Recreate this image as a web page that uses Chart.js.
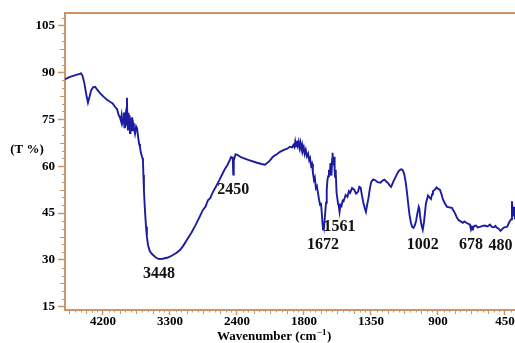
<!DOCTYPE html>
<html>
<head>
<meta charset="utf-8">
<script src="https://cdn.jsdelivr.net/npm/chart.js@4.4.1/dist/chart.umd.min.js"></script>
<style>
  html, body { margin: 0; padding: 0; background: #fff; }
</style>
</head>
<body>
<canvas id="irChart" width="515" height="343"></canvas>
<script>
// FTIR spectrum: transmittance against wavenumber
const tickWavenumbers = [4200, 3300, 2400, 1800, 1350, 900, 450];
const tickLabels = tickWavenumbers.map(String);
const yTicks = [15, 30, 45, 60, 75, 90, 105];
const peakLabels = [3448, 2450, 1672, 1561, 1002, 678, 480];

const wavenumbers = [
  4710, 4680, 4643, 4600, 4560, 4509, 4496, 4475, 4450, 4425, 4402, 4385, 4360, 4334, 4307, 4275, 4240, 4200,
  4150, 4106, 4070, 4039, 4010, 3990, 3971, 3960, 3950, 3940, 3931, 3920, 3912, 3905, 3895, 3885, 3878, 3872,
  3865, 3858, 3850, 3843, 3837, 3830, 3822, 3815, 3805, 3795, 3785, 3770, 3755, 3743, 3725, 3715, 3703, 3690,
  3680, 3670, 3663, 3657, 3650, 3640, 3630, 3622, 3610, 3595, 3575, 3560, 3528, 3490, 3448, 3400, 3340, 3300,
  3260, 3210, 3166, 3120, 3072, 3010, 2960, 2910, 2857, 2820, 2790, 2760, 2722, 2680, 2640, 2588, 2560, 2530,
  2494, 2480, 2465, 2457, 2450, 2443, 2420, 2400, 2360, 2300, 2221, 2180, 2149, 2110, 2078, 2040, 2015, 1980,
  1950, 1925, 1905, 1895, 1885, 1878, 1870, 1863, 1856, 1848, 1840, 1832, 1824, 1816, 1809, 1802, 1795, 1788,
  1780, 1772, 1765, 1759, 1752, 1746, 1740, 1733, 1727, 1720, 1713, 1706, 1699, 1692, 1686, 1680, 1676, 1672,
  1668, 1665, 1658, 1652, 1647, 1642, 1637, 1632, 1627, 1622, 1618, 1615, 1611, 1608, 1604, 1601, 1598, 1594,
  1591, 1588, 1585, 1581, 1576, 1571, 1566, 1561, 1555, 1548, 1540, 1534, 1520, 1508, 1498, 1490, 1477, 1463,
  1450, 1437, 1428, 1419, 1410, 1401, 1392, 1384, 1375, 1366, 1357, 1348, 1335, 1321, 1305, 1286, 1272, 1259,
  1246, 1233, 1224, 1215, 1198, 1180, 1166, 1153, 1144, 1135, 1126, 1117, 1108, 1100, 1091, 1082, 1073, 1064,
  1056, 1047, 1038, 1029, 1024, 1020, 1012, 1002, 994, 981, 967, 957, 947, 940, 934, 920, 910, 900,
  887, 876, 866, 852, 839, 829, 819, 806, 796, 786, 772, 762, 752, 742, 732, 722, 712, 698,
  685, 678, 671, 665, 655, 645, 632, 618, 600, 584, 568, 551, 538, 524, 514, 504, 492, 480,
  470, 460, 450, 436, 423, 409, 403, 396, 389, 383
];

const transmittance = [
  87.7, 88.2, 88.6, 88.9, 89.2, 89.5, 89.7, 88.9, 86.5, 83.0, 80.3, 81.8, 84.2, 85.2, 85.4, 84.4, 83.4, 82.4,
  81.3, 80.6, 80.1, 79.0, 78.2, 76.4, 75.5, 74.6, 76.2, 73.8, 74.6, 77.2, 72.4, 75.6, 76.9, 73.2, 81.9, 74.1,
  71.4, 77.1, 73.4, 76.3, 70.6, 74.9, 72.1, 75.6, 71.2, 73.7, 72.3, 70.4, 72.7, 72.1, 68.8, 67.2, 66.2, 64.1,
  63.4, 62.6, 61.8, 57.2, 52.4, 47.5, 43.6, 40.6, 37.4, 34.8, 33.1, 32.4, 31.6, 30.8, 30.3, 30.4, 30.7, 31.1,
  31.6, 32.3, 33.2, 34.6, 36.5, 38.8, 41.0, 43.4, 46.0, 47.2, 49.1, 49.8, 51.8, 53.6, 55.4, 57.9, 59.2, 60.3,
  62.1, 62.9, 62.6, 63.0, 57.3, 61.8, 63.8, 63.7, 62.8, 62.0, 61.1, 60.7, 60.5, 61.6, 63.0, 63.9, 64.6, 65.2,
  65.6, 66.2, 66.0, 66.8, 66.1, 67.9, 66.4, 68.1, 66.6, 67.8, 65.9, 67.5, 65.4, 66.8, 65.1, 66.0, 63.9, 65.2,
  63.1, 64.0, 61.9, 62.6, 60.2, 60.8, 57.9, 55.6, 56.4, 53.0, 53.6, 51.5, 49.4, 47.6, 48.3, 44.8, 42.0, 39.7,
  41.4, 40.6, 44.6, 48.3, 52.5, 55.7, 56.8, 58.9, 57.1, 61.0, 58.3, 57.0, 62.2, 64.3, 60.5, 61.1, 63.0, 58.7,
  56.6, 58.9, 58.0, 51.5, 49.8, 48.0, 47.2, 45.4, 47.6, 47.2, 49.0, 48.8, 50.8, 50.2, 52.0, 51.5, 53.0, 52.5,
  51.2, 51.8, 53.4, 53.1, 50.5, 48.3, 46.6, 45.4, 47.8, 50.0, 53.0, 55.0, 55.8, 55.5, 54.9, 54.7, 55.4, 55.7,
  55.0, 54.5, 53.8, 53.4, 55.2, 57.0, 58.3, 58.9, 59.0, 58.6, 57.4, 55.0, 51.6, 48.0, 44.4, 42.0, 40.6, 40.3,
  41.0, 42.5, 45.0, 47.0, 46.2, 44.0, 41.5, 39.7, 42.0, 48.0, 50.6, 50.0, 49.5, 51.0, 52.0, 52.5, 53.2, 52.8,
  52.5, 51.0, 49.3, 48.0, 47.0, 46.9, 46.8, 46.7, 45.8, 45.0, 43.5, 42.8, 42.5, 42.2, 41.9, 42.3, 42.0, 41.6,
  41.3, 39.7, 40.6, 40.2, 40.9, 41.0, 40.4, 40.6, 40.9, 41.0, 40.7, 41.3, 40.6, 40.5, 40.9, 40.3, 40.0, 39.3,
  39.8, 40.3, 40.5, 40.6, 41.9, 43.0, 48.8, 44.0, 47.0, 43.0
];

// the wavenumber axis is compressed below 2400: each labelled tick sits one unit apart
function toAxis(w) {
  if (w >= 3300) return (4200 - w) / 900;
  if (w >= 2400) return 1 + (3300 - w) / 900;
  if (w >= 1800) return 2 + (2400 - w) / 600;
  return 3 + (1800 - w) / 450;
}

const axisColor = '#cc9468';
const lineColor = '#1c1ca0';
const serif = '"Liberation Serif", "Times New Roman", serif';

const points = wavenumbers.map((w, i) => ({ x: toAxis(w), y: transmittance[i] }));

const frameAndTicks = {
  id: 'frameAndTicks',
  afterDraw(chart) {
    const { ctx, chartArea, scales } = chart;
    const xs = scales.x, ys = scales.y;
    ctx.save();
    ctx.strokeStyle = axisColor;

    // top border
    ctx.lineWidth = 2;
    ctx.beginPath();
    ctx.moveTo(chartArea.left, chartArea.top);
    ctx.lineTo(chartArea.right, chartArea.top);
    ctx.stroke();

    // minor ticks on the wavenumber axis
    ctx.lineWidth = 1;
    for (let k = Math.ceil(xs.min * 12); k <= Math.floor(xs.max * 12); k++) {
      if (k % 12 === 0) continue;
      const px = Math.round(xs.getPixelForValue(k / 12)) + 0.5;
      const len = k % 3 === 0 ? 4 : 2.5;
      ctx.beginPath();
      ctx.moveTo(px, chartArea.bottom);
      ctx.lineTo(px, chartArea.bottom + len);
      ctx.stroke();
    }

    // minor ticks on the transmittance axis
    for (let v = 15; v <= ys.max; v += 2.5) {
      if (v % 15 === 0) continue;
      const py = Math.round(ys.getPixelForValue(v)) + 0.5;
      const len = v % 7.5 === 0 ? 5 : 3;
      ctx.beginPath();
      ctx.moveTo(chartArea.left, py);
      ctx.lineTo(chartArea.left - len, py);
      ctx.stroke();
    }

    // axis titles
    ctx.fillStyle = '#000';
    ctx.font = 'bold 13px ' + serif;
    ctx.textBaseline = 'middle';
    ctx.textAlign = 'center';
    ctx.fillText('(T %)', 27, 150);

    ctx.textAlign = 'left';
    const tx = 217, ty = 337;
    const main = 'Wavenumber (cm';
    ctx.fillText(main, tx, ty);
    let w = ctx.measureText(main).width;
    ctx.font = 'bold 9px ' + serif;
    ctx.fillText('\u22121', tx + w + 0.5, ty - 4);
    w += ctx.measureText('\u22121').width + 1;
    ctx.font = 'bold 13px ' + serif;
    ctx.fillText(')', tx + w, ty);
    ctx.restore();
  },
  afterDatasetsDraw(chart) {
    const { ctx, scales } = chart;
    ctx.save();
    ctx.fillStyle = '#111';
    ctx.font = 'bold 16px ' + serif;
    ctx.textAlign = 'center';
    ctx.textBaseline = 'middle';
    peakLabels.forEach(w => {
      const i = wavenumbers.indexOf(w);
      const px = scales.x.getPixelForValue(toAxis(w));
      const py = scales.y.getPixelForValue(transmittance[i]) + 15;
      ctx.fillText(String(w), px, py);
    });
    ctx.restore();
  }
};

new Chart(document.getElementById('irChart'), {
  type: 'line',
  data: {
    datasets: [{
      data: points,
      borderColor: lineColor,
      borderWidth: 1.9,
      pointRadius: 0,
      tension: 0,
      fill: false
    }]
  },
  options: {
    responsive: false,
    animation: false,
    layout: { padding: { top: 13, right: 0, bottom: 0, left: 0 } },
    plugins: {
      legend: { display: false },
      tooltip: { enabled: false }
    },
    scales: {
      x: {
        type: 'linear',
        min: -0.567,
        max: 6.15,
        afterBuildTicks: scale => {
          scale.ticks = tickWavenumbers.map((w, i) => ({ value: i }));
        },
        afterFit: scale => {
          scale.height = 33;
          scale.paddingLeft = 0;
          scale.paddingRight = 0;
        },
        ticks: {
          autoSkip: false,
          maxRotation: 0,
          padding: -1,
          color: '#000',
          font: { family: serif, size: 13, weight: 'bold' },
          callback: value => tickLabels[value]
        },
        grid: {
          drawOnChartArea: false,
          drawTicks: true,
          tickLength: 5,
          tickColor: axisColor,
          tickWidth: 1.5
        },
        border: { display: true, color: axisColor, width: 2 }
      },
      y: {
        min: 14,
        max: 109,
        afterBuildTicks: scale => {
          scale.ticks = yTicks.map(v => ({ value: v }));
        },
        afterFit: scale => {
          scale.width = 65;
          scale.paddingTop = 0;
          scale.paddingBottom = 0;
        },
        ticks: {
          padding: 3,
          color: '#000',
          font: { family: serif, size: 13, weight: 'bold' }
        },
        grid: {
          drawOnChartArea: false,
          drawTicks: true,
          tickLength: 7,
          tickColor: axisColor,
          tickWidth: 1.5
        },
        border: { display: true, color: axisColor, width: 2 }
      }
    }
  },
  plugins: [frameAndTicks]
});
</script>
</body>
</html>
